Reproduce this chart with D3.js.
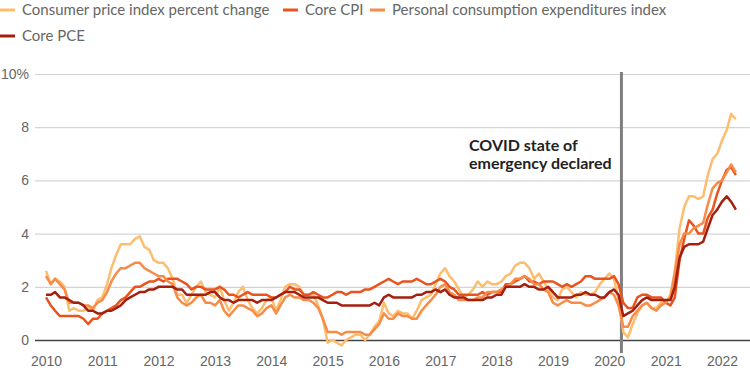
<!DOCTYPE html>
<html>
<head>
<meta charset="utf-8">
<script src="https://cdn.jsdelivr.net/npm/d3@7"></script>
<style>
  body { margin: 0; background: #fff; }
  svg { font-family: Lato, sans-serif; }
</style>
</head>
<body>
<div id="chart"></div>
<script>
// year-over-year percent change, monthly, Jan 2010 - Apr 2022
const cpi = [
  2.6, 2.1, 2.3, 2.2, 2.0, 1.1, 1.2, 1.1, 1.1, 1.2, 1.1, 1.5,
  1.6, 2.1, 2.7, 3.2, 3.6, 3.6, 3.6, 3.8, 3.9, 3.5, 3.4, 3.0,
  2.9, 2.9, 2.7, 2.3, 1.7, 1.7, 1.4, 1.7, 2.0, 2.2, 1.8, 1.7,
  1.6, 2.0, 1.5, 1.1, 1.4, 1.8, 2.0, 1.5, 1.2, 1.0, 1.2, 1.5,
  1.6, 1.1, 1.5, 2.0, 2.1, 2.1, 2.0, 1.7, 1.7, 1.7, 1.3, 0.8,
  -0.1, 0.0, -0.1, -0.2, 0.0, 0.1, 0.2, 0.2, 0.0, 0.2, 0.5, 0.7,
  1.4, 1.0, 0.9, 1.1, 1.0, 1.0, 0.8, 1.1, 1.5, 1.6, 1.7, 2.1,
  2.5, 2.7, 2.4, 2.2, 1.9, 1.6, 1.7, 1.9, 2.2, 2.0, 2.2, 2.1,
  2.1, 2.2, 2.4, 2.5, 2.8, 2.9, 2.9, 2.7, 2.3, 2.5, 2.2, 1.9,
  1.6, 1.5, 1.9, 2.0, 1.8, 1.6, 1.8, 1.7, 1.7, 1.8, 2.1, 2.3,
  2.5, 2.3, 1.5, 0.3, 0.1, 0.6, 1.0, 1.3, 1.4, 1.2, 1.2, 1.4,
  1.4, 1.7, 2.6, 4.2, 5.0, 5.4, 5.4, 5.3, 5.4, 6.2, 6.8, 7.0,
  7.5, 7.9, 8.5, 8.3
];
const coreCpi = [
  1.6, 1.3, 1.1, 0.9, 0.9, 0.9, 0.9, 0.9, 0.8, 0.6, 0.8, 0.8,
  1.0, 1.1, 1.2, 1.3, 1.5, 1.6, 1.8, 2.0, 2.0, 2.1, 2.2, 2.2,
  2.3, 2.2, 2.3, 2.3, 2.3, 2.2, 2.1, 1.9, 2.0, 2.0, 1.9, 1.9,
  1.9, 2.0, 1.9, 1.7, 1.7, 1.6, 1.7, 1.8, 1.7, 1.7, 1.7, 1.7,
  1.6, 1.6, 1.7, 1.8, 2.0, 1.9, 1.9, 1.7, 1.7, 1.8, 1.7, 1.6,
  1.6, 1.7, 1.8, 1.8, 1.7, 1.8, 1.8, 1.8, 1.9, 1.9, 2.0, 2.1,
  2.2, 2.3, 2.2, 2.1, 2.2, 2.2, 2.2, 2.3, 2.2, 2.1, 2.1, 2.2,
  2.3, 2.2, 2.0, 1.9, 1.7, 1.7, 1.7, 1.7, 1.7, 1.8, 1.7, 1.8,
  1.8, 1.8, 2.1, 2.1, 2.2, 2.3, 2.4, 2.2, 2.2, 2.1, 2.2, 2.2,
  2.2, 2.1, 2.0, 2.1, 2.0, 2.1, 2.2, 2.4, 2.4, 2.3, 2.3, 2.3,
  2.3, 2.4, 2.1, 1.4, 1.2, 1.2, 1.6, 1.7, 1.7, 1.6, 1.6, 1.6,
  1.4, 1.3, 1.6, 3.0, 3.8, 4.5, 4.3, 4.0, 4.0, 4.6, 4.9, 5.5,
  6.0, 6.4, 6.5, 6.2
];
const pce = [
  2.4, 2.1, 2.3, 2.1, 1.9, 1.4, 1.4, 1.4, 1.3, 1.3, 1.2, 1.4,
  1.5, 1.8, 2.2, 2.5, 2.7, 2.7, 2.8, 2.9, 2.9, 2.7, 2.6, 2.5,
  2.4, 2.4, 2.2, 2.1, 1.6, 1.4, 1.3, 1.4, 1.6, 1.7, 1.4, 1.4,
  1.3, 1.5, 1.1, 0.9, 1.1, 1.3, 1.3, 1.2, 1.1, 0.9, 1.0, 1.2,
  1.3, 1.0, 1.3, 1.6, 1.7, 1.6, 1.6, 1.5, 1.5, 1.4, 1.2, 0.8,
  0.3, 0.3, 0.3, 0.2, 0.3, 0.3, 0.3, 0.3, 0.2, 0.2, 0.4, 0.6,
  1.0, 0.8, 0.8, 1.0, 0.9, 0.9, 0.8, 0.8, 1.1, 1.3, 1.5, 1.7,
  2.0, 2.1, 1.8, 1.7, 1.5, 1.5, 1.5, 1.5, 1.6, 1.6, 1.8, 1.8,
  1.8, 1.9, 2.0, 2.1, 2.3, 2.3, 2.4, 2.3, 2.1, 2.1, 1.9, 1.8,
  1.4, 1.3, 1.4, 1.5, 1.4, 1.4, 1.4, 1.3, 1.3, 1.4, 1.5, 1.6,
  1.8, 1.7, 1.3, 0.5, 0.5, 0.9, 1.1, 1.3, 1.4, 1.2, 1.1, 1.3,
  1.4, 1.6, 2.5, 3.6, 4.0, 4.0, 4.2, 4.3, 4.4, 5.1, 5.7, 5.9,
  6.0, 6.3, 6.6, 6.3
];
const corePce = [
  1.7, 1.7, 1.8, 1.6, 1.6, 1.5, 1.4, 1.4, 1.3, 1.1, 1.1, 1.0,
  1.0, 1.1, 1.1, 1.2, 1.3, 1.5, 1.6, 1.7, 1.8, 1.8, 1.9, 1.9,
  2.0, 2.0, 2.0, 2.0, 1.9, 1.9, 1.7, 1.7, 1.7, 1.7, 1.7, 1.8,
  1.8, 1.6, 1.5, 1.5, 1.4, 1.5, 1.5, 1.5, 1.5, 1.4, 1.5, 1.5,
  1.5, 1.6, 1.7, 1.8, 1.8, 1.8, 1.7, 1.6, 1.6, 1.6, 1.6, 1.5,
  1.4, 1.4, 1.4, 1.3, 1.3, 1.3, 1.3, 1.3, 1.3, 1.3, 1.4, 1.3,
  1.6, 1.7, 1.6, 1.6, 1.6, 1.6, 1.6, 1.7, 1.7, 1.8, 1.8, 1.9,
  1.8, 1.9, 1.7, 1.6, 1.6, 1.6, 1.5, 1.5, 1.5, 1.5, 1.6, 1.6,
  1.7, 1.7, 2.0, 2.0, 2.0, 2.0, 2.1, 2.0, 2.0, 1.9, 1.9, 2.0,
  1.8, 1.6, 1.6, 1.6, 1.6, 1.7, 1.7, 1.8, 1.7, 1.7, 1.6, 1.6,
  1.8, 1.9, 1.7, 0.9, 1.0, 1.1, 1.3, 1.5, 1.6, 1.5, 1.5, 1.5,
  1.5, 1.5, 2.0, 3.1, 3.5, 3.6, 3.6, 3.6, 3.7, 4.2, 4.7, 4.9,
  5.2, 5.4, 5.2, 4.9
];

const seriesNames = ["Consumer price index percent change", "Core CPI", "Personal consumption expenditures index", "Core PCE"];
const seriesColors = ["#fdbd6e", "#e8531e", "#f98b48", "#a51f0e"];
const yTicks = [0, 2, 4, 6, 8, 10];
const xYears = d3.range(2010, 2023);
const covidDate = new Date(2020, 2, 20);
const noteLines = ["COVID state of", "emergency declared"];

const width = 750, height = 375;

const svg = d3.select("#chart").append("svg")
    .attr("width", width)
    .attr("height", height);

const x = d3.scaleTime()
    .domain([new Date(2010, 0, 1), new Date(2022, 0, 1)])
    .range([46, 722]);

const y = d3.scaleLinear()
    .domain([0, 10])
    .range([340, 74]);

// gridlines + y labels
const yAxis = svg.append("g")
    .attr("transform", "translate(35,0)")
    .call(d3.axisRight(y).tickValues(yTicks).tickSize(width - 35)
        .tickFormat(d => d === 10 ? "10%" : d));
yAxis.select(".domain").remove();
yAxis.selectAll(".tick line")
    .attr("stroke", d => d === 0 ? "#444" : "#d4d4d4")
    .attr("stroke-width", d => d === 0 ? 1.5 : 1.2);
yAxis.selectAll(".tick text")
    .attr("x", -6)
    .attr("text-anchor", "end")
    .attr("fill", "#666")
    .attr("font-size", 14);

// x labels
const xAxis = svg.append("g")
    .attr("transform", "translate(0,353)")
    .call(d3.axisBottom(x).tickValues(xYears.map(yr => new Date(yr, 0, 1)))
        .tickSize(0).tickFormat(d3.timeFormat("%Y")));
xAxis.select(".domain").remove();
xAxis.selectAll(".tick text")
    .attr("fill", "#666")
    .attr("font-size", 14);

// covid line
svg.append("line")
    .attr("x1", x(covidDate)).attr("x2", x(covidDate))
    .attr("y1", 72).attr("y2", 353)
    .attr("stroke", "#7f7f7f")
    .attr("stroke-width", 3);

svg.append("text")
    .attr("y", 151)
    .attr("font-weight", "bold")
    .attr("font-size", 16)
    .attr("fill", "#222")
    .selectAll("tspan")
    .data(noteLines)
    .enter().append("tspan")
    .attr("x", 469)
    .attr("dy", (d, i) => i === 0 ? 0 : 18)
    .text(d => d);

// lines
const allSeries = [cpi, coreCpi, pce, corePce];
const line = d3.line()
    .x((d, i) => x(new Date(2010, i, 1)))
    .y(d => y(d));

svg.append("g").selectAll("path")
    .data(allSeries)
    .enter().append("path")
    .attr("d", d => line(d))
    .attr("fill", "none")
    .attr("stroke", (d, i) => seriesColors[i])
    .attr("stroke-width", 2.5)
    .attr("stroke-linejoin", "round");

// legend
const legendPos = [[0, 15], [283, 15], [370, 15], [0, 41]];
const legend = svg.append("g").selectAll("g")
    .data(seriesNames)
    .enter().append("g")
    .attr("transform", (d, i) => `translate(${legendPos[i][0]},${legendPos[i][1]})`);
legend.append("line")
    .attr("x1", 0).attr("x2", 15)
    .attr("y1", -5).attr("y2", -5)
    .attr("stroke", (d, i) => seriesColors[i])
    .attr("stroke-width", 3);
legend.append("text")
    .attr("x", 22)
    .attr("font-size", 15)
    .attr("fill", "#666")
    .text(d => d);
</script>
</body>
</html>
